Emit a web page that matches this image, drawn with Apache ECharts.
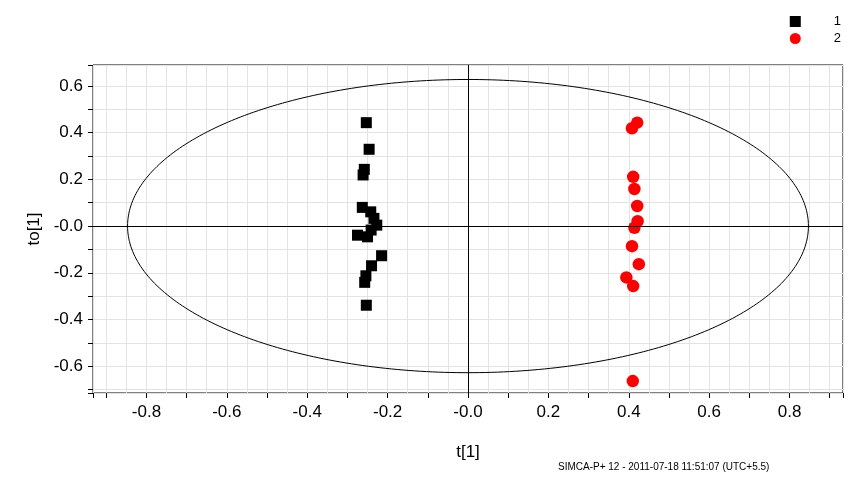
<!DOCTYPE html>
<html>
<head>
<meta charset="utf-8">
<script src="https://cdn.jsdelivr.net/npm/echarts@6/dist/echarts.min.js"></script>
<style>
html,body{margin:0;padding:0;background:#fff;}
#chart{width:857px;height:485px;}
</style>
</head>
<body>
<div id="chart"></div>
<script>
// ---- data ----
const class1T  = [-0.253,-0.246,-0.258,-0.261,-0.263,-0.242,-0.234,-0.227,-0.241,-0.275,-0.250,-0.215,-0.240,-0.254,-0.257,-0.253];
const class1To = [ 0.443, 0.329, 0.243, 0.219, 0.080, 0.061, 0.033, 0.004,-0.017,-0.039,-0.046,-0.127,-0.170,-0.213,-0.241,-0.339];
const class2T  = [0.421,0.408,0.411,0.414,0.421,0.422,0.414,0.408,0.425,0.394,0.411,0.410];
const class2To = [0.443,0.419,0.211,0.159,0.086,0.021,-0.007,-0.086,-0.163,-0.220,-0.257,-0.664];
const seriesNames = ['1','2'];
const ellipseRadii = [0.847, 0.628];   // Hotelling T2 ellipse semi-axes (t, to)
const xRange = [-0.933, 0.933];
const yRange = [-0.715, 0.69];
const footerText = 'SIMCA-P+ 12 - 2011-07-18 11:51:07 (UTC+5.5)';

// ---- build ----
const pts1 = class1T.map((v,i)=>[v,class1To[i]]);
const pts2 = class2T.map((v,i)=>[v,class2To[i]]);
const ell = [];
for (let k=0;k<=360;k++){const a=k*Math.PI/180; ell.push([ellipseRadii[0]*Math.cos(a), ellipseRadii[1]*Math.sin(a)]);}

const FONT = "'Liberation Sans', Arial, sans-serif";
const fmt = v => Math.abs(v) < 1e-9 ? '-0.0' : v.toFixed(1);
const grid = '#e3e3e3';

const chart = echarts.init(document.getElementById('chart'), null, {renderer:'canvas'});
chart.setOption({
  animation:false,
  backgroundColor:'#fff',
  grid:{left:93, top:65, right:14, bottom:92, show:true, borderColor:'#000', borderWidth:1, backgroundColor:'transparent'},
  legend:{
    orient:'vertical', right:11, top:10, itemWidth:11, itemHeight:11, itemGap:4,
    data:[{name:'1', icon:'rect'},{name:'2', icon:'circle'}],
    textStyle:{fontFamily:FONT, fontSize:13, color:'#000', padding:[0,0,0,28]}
  },
  xAxis:[
    {type:'value', min:xRange[0], max:xRange[1], splitNumber:9, position:'bottom',
     name:'t[1]', nameLocation:'middle', nameGap:51, nameTextStyle:{fontFamily:FONT, fontSize:17, color:'#000'},
     axisLine:{show:false, onZero:false}, axisTick:{show:false},
     axisLabel:{show:true, showMinLabel:false, showMaxLabel:false, formatter:fmt, fontFamily:FONT, fontSize:17, color:'#000', margin:11},
     splitLine:{show:true, lineStyle:{color:grid, width:1}},
     minorTick:{show:false, splitNumber:4},
     minorSplitLine:{show:true, lineStyle:{color:grid, width:1}}},
    {type:'value', min:xRange[0], max:xRange[1], splitNumber:18, position:'bottom',
     axisLine:{show:false, onZero:false}, axisLabel:{show:false}, splitLine:{show:false},
     axisTick:{show:true, inside:false, length:5, lineStyle:{color:'#000', width:1}}}
  ],
  yAxis:[
    {type:'value', min:yRange[0], max:yRange[1], splitNumber:7, position:'left',
     name:'to[1]', nameLocation:'middle', nameGap:44, nameRotate:90, nameTextStyle:{fontFamily:FONT, fontSize:17, color:'#000'},
     axisLine:{show:false, onZero:false},
     axisTick:{show:true, inside:false, length:5, lineStyle:{color:'#000', width:1}},
     minorTick:{show:true, splitNumber:2, length:5, lineStyle:{color:'#000', width:1}},
     axisLabel:{show:true, showMinLabel:false, showMaxLabel:false, formatter:fmt, fontFamily:FONT, fontSize:17, color:'#000', margin:10},
     splitLine:{show:true, lineStyle:{color:grid, width:1}},
     minorSplitLine:{show:true, lineStyle:{color:grid, width:1}}}
  ],
  graphic:[
    {type:'text', left:558, top:462, style:{text:footerText, fontFamily:FONT, fontSize:10, fill:'#000'}}
  ],
  series:[
    {type:'line', name:'ellipse', data:ell, showSymbol:false, symbol:'none', silent:true, z:2,
     lineStyle:{color:'#000', width:1},
     markLine:{silent:true, symbol:'none', label:{show:false}, animation:false,
       lineStyle:{color:'#000', width:1, type:'solid'},
       data:[{xAxis:0},{yAxis:0}]}},
    {type:'scatter', name:seriesNames[0], data:pts1, symbol:'rect', symbolSize:11, z:3,
     itemStyle:{color:'#000', opacity:1}},
    {type:'scatter', name:seriesNames[1], data:pts2, symbol:'circle', symbolSize:12.5, z:3,
     itemStyle:{color:'#ff0000', opacity:1}}
  ]
});
</script>
</body>
</html>
